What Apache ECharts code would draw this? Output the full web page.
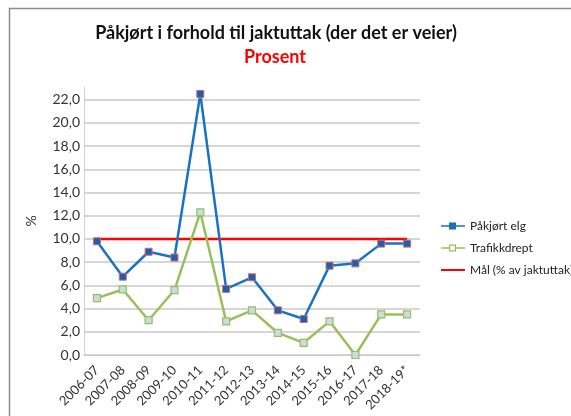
<!DOCTYPE html>
<html>
<head>
<meta charset="utf-8">
<script src="https://cdn.jsdelivr.net/npm/echarts@6/dist/echarts.min.js"></script>
<style>html,body{margin:0;padding:0;background:#fff}#c{width:571px;height:416px}</style>
</head>
<body>
<div id="c"></div>
<script>
const categories = ['2006-07','2007-08','2008-09','2009-10','2010-11','2011-12','2012-13','2013-14','2014-15','2015-16','2016-17','2017-18','2018-19*'];
const pakjortElg = [9.8, 6.75, 8.9, 8.4, 22.5, 5.7, 6.7, 3.85, 3.1, 7.7, 7.9, 9.6, 9.6];
const trafikkdrept = [4.9, 5.65, 3.0, 5.6, 12.3, 2.9, 3.85, 1.9, 1.05, 2.9, 0.0, 3.5, 3.5];
const maal = [10, 10, 10, 10, 10, 10, 10, 10, 10, 10, 10, 10, 10];
const yTicks = [0, 2, 4, 6, 8, 10, 12, 14, 16, 18, 20, 22];

const FONT = 'Lato, "Open Sans", sans-serif';
// legend icons in a 24x12 box: line with a square marker / hollow square / plain line
const iconFilled = 'path://M0,0 M24,12 M0,5.2 L8,5.2 L8,2.5 L15,2.5 L15,5.2 L24,5.2 L24,6.8 L15,6.8 L15,9.5 L8,9.5 L8,6.8 L0,6.8 Z';
const iconHollow = 'path://M0,0 M24,12 M0,5.2 L8,5.2 L8,2.5 L15,2.5 L15,5.2 L24,5.2 L24,6.8 L15,6.8 L15,9.5 L8,9.5 L8,6.8 L0,6.8 Z M9.2,3.7 L9.2,8.3 L13.8,8.3 L13.8,3.7 Z';
const iconLine = 'path://M0,0 M24,12 M0,5 L24,5 L24,7 L0,7 Z';

const chart = echarts.init(document.getElementById('c'), null, {renderer: 'canvas'});
chart.setOption({
  animation: false,
  backgroundColor: '#fff',
  textStyle: {fontFamily: FONT},
  graphic: [{
    type: 'rect', shape: {x: 9.5, y: 8.5, width: 600, height: 450},
    style: {fill: 'none', stroke: '#8c8c8c', lineWidth: 1.5}, silent: true
  }],
  title: [{
    text: 'Påkjørt i forhold til jaktuttak (der det er veier)',
    left: 271, top: 19, textAlign: 'center',
    textStyle: {fontFamily: FONT, fontSize: 18, fontWeight: 'bold', color: '#111'}
  }, {
    text: 'Prosent',
    left: 270, top: 43, textAlign: 'center',
    textStyle: {fontFamily: FONT, fontSize: 18, fontWeight: 'bold', color: '#ff0000'}
  }],
  legend: {
    orient: 'vertical', left: 436, top: 215, itemGap: 10, itemWidth: 24, itemHeight: 12,
    textStyle: {fontFamily: FONT, fontSize: 12, color: '#222'},
    data: [
      {name: 'Påkjørt elg', icon: iconFilled, itemStyle: {color: '#1a6fc0', borderWidth: 0}},
      {name: 'Trafikkdrept', icon: iconHollow, itemStyle: {color: '#98c05a', borderWidth: 0}},
      {name: 'Mål (% av jaktuttak)', icon: iconLine, itemStyle: {color: '#ff0000', borderWidth: 0}}
    ]
  },
  grid: {left: 84, right: 151, top: 87, bottom: 61, containLabel: false},
  xAxis: {
    type: 'category', data: categories, boundaryGap: true,
    axisLine: {show: true, lineStyle: {color: '#d0d0d0', width: 1}},
    axisTick: {show: false},
    axisLabel: {rotate: 45, interval: 0, fontFamily: FONT, fontSize: 13, color: '#333', margin: 13}
  },
  yAxis: {
    type: 'value', min: 0, max: 23.1, interval: 2,
    name: '%', nameLocation: 'middle', nameGap: 46, nameRotate: 90,
    nameTextStyle: {fontFamily: FONT, fontSize: 14, color: '#333'},
    axisLine: {show: true, lineStyle: {color: '#d0d0d0', width: 1}},
    axisTick: {show: false},
    splitLine: {show: false},
    axisLabel: {
      showMaxLabel: false, fontFamily: FONT, fontSize: 14, color: '#333', margin: 4,
      formatter: v => v.toFixed(1).replace('.', ',')
    }
  },
  series: [{
    name: 'Mål (% av jaktuttak)', type: 'line', data: maal,
    symbol: 'none', z: 3,
    lineStyle: {color: '#ff0000', width: 2.5}, itemStyle: {color: '#ff0000'},
    markLine: {
      silent: true, symbol: 'none', label: {show: false}, z: 1,
      lineStyle: {color: '#c8c8c8', width: 1.5, type: 'solid'},
      data: yTicks.map(v => ({yAxis: v}))
    }
  }, {
    name: 'Påkjørt elg', type: 'line', data: pakjortElg,
    symbol: 'rect', symbolSize: 7, z: 4,
    lineStyle: {color: '#1a72c4', width: 2.5},
    itemStyle: {color: '#1a5fb0', borderColor: '#d46a6a', borderWidth: 1}
  }, {
    name: 'Trafikkdrept', type: 'line', data: trafikkdrept,
    symbol: 'rect', symbolSize: 7, z: 5,
    lineStyle: {color: '#98c05a', width: 2.5},
    itemStyle: {color: '#c9dbe9', borderColor: '#98c05a', borderWidth: 1.2}
  }]
});
</script>
</body>
</html>
